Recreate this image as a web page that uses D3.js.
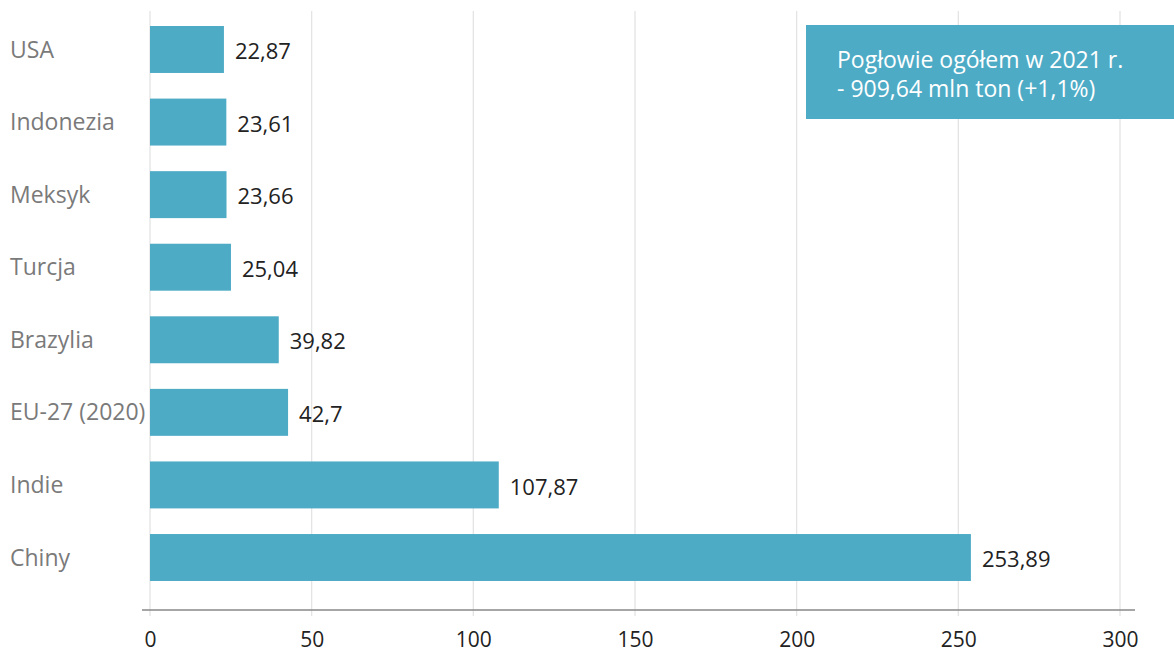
<!DOCTYPE html>
<html lang="pl">
  <head>
    <meta charset="utf-8">
    <title>Pogłowie</title>
    <script src="https://d3js.org/d3.v7.min.js"></script>
    <style>
      body { margin: 0; background: #fff; }
      text { font-family: "Open Sans", sans-serif; }
    </style>
  </head>
  <body>
    <div id="chart"></div>
    <script type="text/javascript">
      // data (mln ton)
      var countries = ["USA", "Indonezia", "Meksyk", "Turcja", "Brazylia", "EU-27 (2020)", "Indie", "Chiny"];
      var values = [22.87, 23.61, 23.66, 25.04, 39.82, 42.7, 107.87, 253.89];
      var valueLabels = ["22,87", "23,61", "23,66", "25,04", "39,82", "42,7", "107,87", "253,89"];
      var xTicks = [0, 50, 100, 150, 200, 250, 300];
      var noteLines = ["Pogłowie ogółem w 2021 r.", "- 909,64 mln ton (+1,1%)"];

      var width = 1174, height = 653;
      var barColor = "#4eabc6";

      var svg = d3.select("#chart")
        .append("svg")
        .attr("width", width)
        .attr("height", height);

      var data = countries.map(function(c, i) {
        return { name: c, value: values[i], label: valueLabels[i] };
      });

      var xScale = d3.scaleLinear()
        .domain([0, 300])
        .range([150, 1120]);

      var yScale = d3.scaleBand()
        .domain(countries)
        .range([11.5, 595.5])
        .paddingInner(0.353)
        .paddingOuter(0.2);

      // vertical gridlines
      svg.append("g")
        .selectAll("line")
        .data(xTicks)
        .enter()
        .append("line")
          .attr("x1", function(d) { return xScale(d); })
          .attr("x2", function(d) { return xScale(d); })
          .attr("y1", 11)
          .attr("y2", 616)
          .style("stroke", "#e4e4e4")
          .style("stroke-width", 1.3);

      // annotation box
      svg.append("rect")
        .attr("x", 806)
        .attr("y", 25)
        .attr("width", width - 806)
        .attr("height", 94)
        .attr("fill", barColor);

      svg.append("g")
        .selectAll("text")
        .data(noteLines)
        .enter()
        .append("text")
          .attr("x", 837)
          .attr("y", function(d, i) { return 68 + i * 29; })
          .attr("fill", "#fff")
          .style("font-size", "23px")
          .text(function(d) { return d; });

      // bars
      svg.selectAll(".bar")
        .data(data)
        .enter()
        .append("rect")
          .attr("class", "bar")
          .attr("x", xScale(0))
          .attr("y", function(d) { return yScale(d.name); })
          .attr("width", function(d) { return xScale(d.value) - xScale(0); })
          .attr("height", yScale.bandwidth())
          .attr("fill", barColor);

      // value labels
      svg.selectAll(".val")
        .data(data)
        .enter()
        .append("text")
          .attr("class", "val")
          .attr("x", function(d) { return xScale(d.value) + 11; })
          .attr("y", function(d) { return yScale(d.name) + yScale.bandwidth() / 2 + 2; })
          .attr("dy", "0.35em")
          .attr("fill", "#222")
          .style("font-size", "22px")
          .text(function(d) { return d.label; });

      // category labels
      svg.selectAll(".cat")
        .data(data)
        .enter()
        .append("text")
          .attr("class", "cat")
          .attr("x", 10)
          .attr("y", function(d) { return yScale(d.name) + yScale.bandwidth() / 2; })
          .attr("dy", "0.35em")
          .attr("fill", "#7a7a7a")
          .style("font-size", "23px")
          .text(function(d) { return d.name; });

      // bottom axis
      var xAxis = d3.axisBottom(xScale)
        .tickValues(xTicks)
        .tickSize(0)
        .tickPadding(22)
        .tickFormat(d3.format("d"));

      var axisG = svg.append("g")
        .attr("transform", "translate(0, 610)")
        .call(xAxis);

      axisG.select(".domain").remove();
      axisG.selectAll("text")
        .attr("fill", "#222")
        .style("font-family", "'Open Sans', sans-serif")
        .style("font-size", "21px");

      svg.append("line")
        .attr("x1", 142)
        .attr("x2", 1135)
        .attr("y1", 610)
        .attr("y2", 610)
        .style("stroke", "#888")
        .style("stroke-width", 1.5);
    </script>
  </body>
</html>
